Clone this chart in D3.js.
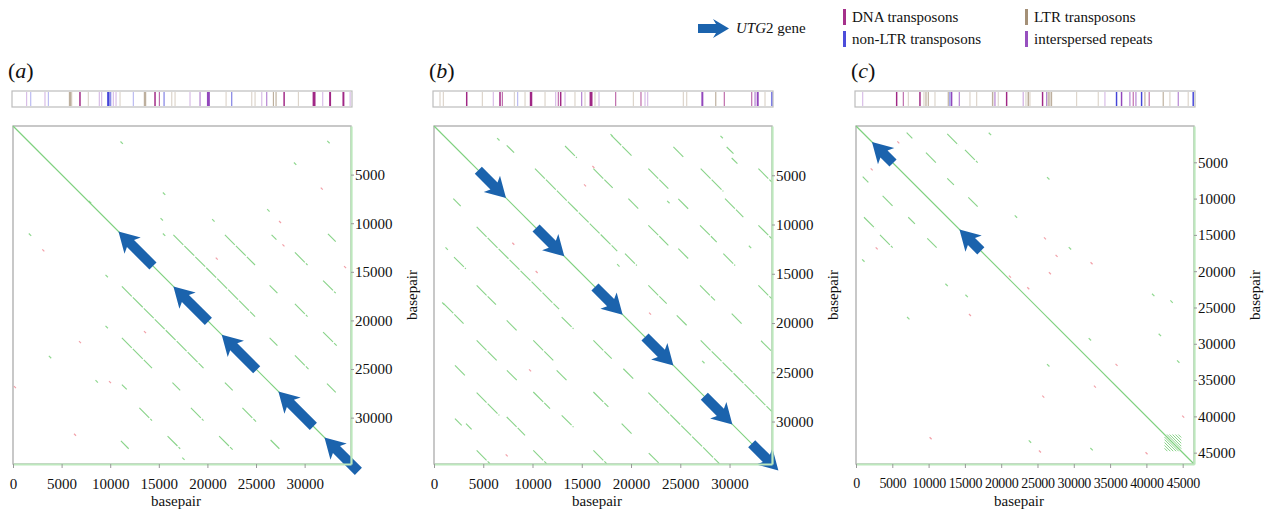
<!DOCTYPE html>
<html>
<head>
<meta charset="utf-8">
<script src="https://cdn.jsdelivr.net/npm/d3@7"></script>
<style>
  body { margin: 0; background: #fff; }
  svg text { font-family: "Liberation Serif", "Times New Roman", Times, serif; fill: #111; }
</style>
</head>
<body>
<svg id="chart" width="1269" height="515"></svg>
<script>
'use strict';

// sequence lengths (bp) of the three loci
var lengthA = 34770, lengthB = 34310, lengthC = 46560;

var xTicksA = [0, 5000, 10000, 15000, 20000, 25000, 30000];
var yTicksA = [5000, 10000, 15000, 20000, 25000, 30000];
var xTicksC = [0, 5000, 10000, 15000, 20000, 25000, 30000, 35000, 40000, 45000];
var yTicksC = [5000, 10000, 15000, 20000, 25000, 30000, 35000, 40000, 45000];

// UTG2 gene copies [start, end] in bp
var genesA = [[10850, 14400], [16500, 20100], [21470, 25070], [27300, 30900], [32040, 35530]];
var genesB = [[4500, 7310], [10360, 13230], [16340, 19150], [21420, 24300], [27440, 30290], [32250, 34960]];
var genesC = [[2200, 5100], [14250, 17200]];
var strandA = "-", strandB = "+", strandC = "-";

// repeat hits in upper triangle [x1, y1, x2, y2] (self dot plot, mirrored below)
var segsA = [[16500, 11200, 24900, 19600], [21800, 11200, 24900, 14300], [26600, 11200, 27100, 11700],
  [29000, 13000, 30300, 14300], [32400, 11100, 33200, 11900], [26400, 16400, 27200, 17200],
  [29000, 18300, 30300, 19600], [31900, 15900, 33200, 17200], [26400, 21800, 27200, 22600],
  [29000, 23600, 30400, 25000], [31900, 21200, 33300, 22600], [32300, 26500, 33200, 27400]];
var segsB = [[10250, 4330, 18600, 12700], [27070, 21760, 34280, 28970], [7380, 1960, 8130, 2710],
  [13300, 2030, 14500, 3230], [18000, 950, 20050, 3000], [24300, 2130, 25400, 3230],
  [29710, 2130, 30400, 2810], [30220, 3250, 30800, 3820], [16180, 4330, 18140, 6290],
  [21760, 4330, 23790, 6360], [27070, 4330, 29370, 6630], [32930, 4330, 34280, 5680],
  [19730, 7380, 20740, 8390], [24800, 7400, 25800, 8400], [29540, 7380, 31400, 9240],
  [21760, 10080, 23790, 12110], [27000, 10080, 28700, 11780], [32930, 10080, 34280, 11430],
  [19390, 12960, 20590, 14160], [24800, 12450, 25800, 13450], [29370, 12960, 30570, 14160],
  [21760, 16180, 23620, 18040], [27000, 16180, 28520, 17700], [32930, 16180, 34280, 17530],
  [24640, 19220, 25660, 20240], [30220, 19050, 31240, 20070], [33200, 21800, 34280, 22880]];
var segsC = [[6980, 920, 7760, 1700], [12570, 1100, 14090, 2620], [15010, 3300, 16760, 5050],
  [9640, 3670, 11020, 5050], [12570, 7200, 13490, 8120], [15470, 9820, 16760, 11110]];

// tandem repeat block in (c)
var tandemC = [42500, 44800];
var tandemOffsetsC = [-1900, -1500, -1100, -700, -350, 350, 700, 1100, 1500, 1900];

// isolated short hits [x, y]
var greenDotsA = [[11180, 1720], [15300, 9600], [15540, 11180], [1750, 11180], [3810, 23770], [8610, 26270],
  [9640, 20680], [9640, 15440], [7920, 7820], [32450, 1650], [29020, 3880], [26270, 8680],
  [20610, 9710], [15540, 6960], [17530, 34230]];
var pinkDotsA = [[3120, 12790], [6890, 22230], [13580, 21200], [200, 26860], [9980, 26340], [6380, 31760],
  [27470, 9880], [20960, 13650], [34160, 14510], [31760, 6450], [27820, 12280]];
var greenDotsB = [[18040, 950], [6530, 1350], [29200, 1120], [1290, 12450], [950, 18040], [18710, 14150],
  [27340, 23960], [32080, 12280], [23790, 7720]];
var pinkDotsB = [[16180, 4160], [15330, 6020], [10420, 14820], [21930, 19050], [7380, 33430], [9750, 24800],
  [8050, 11950]];
var greenDotsC = [[18450, 1100], [26480, 7210], [22030, 12480], [29470, 16850], [1010, 18540], [12480, 21890],
  [15240, 23410], [40940, 23270], [43470, 24190], [7200, 26480], [32220, 29380], [23960, 43470],
  [32450, 44520], [41860, 28780], [44390, 32450], [26480, 32960]];
var pinkDotsC = [[5830, 2250], [2160, 5970], [2850, 16850], [21210, 20750], [23730, 22350], [26030, 15470],
  [27630, 17900], [32450, 18910], [26710, 20290], [10280, 43010], [15700, 26030], [25340, 44840],
  [35890, 32910], [32910, 35900], [40020, 45080], [45070, 40030], [25800, 37270]];

// repeat annotation tracks [position, length, type, score 1-3]
var repeatsA = [[1400,120,"int",1],[1820,120,"nonLTR",1],[3290,120,"int",1],[3640,120,"nonLTR",1],[5870,250,"LTR",2],
  [6040,120,"LTR",1],[6890,150,"DNA",3],[7750,120,"LTR",1],[8880,120,"int",1],[9120,120,"int",1],[9810,250,"nonLTR",3],
  [10050,120,"nonLTR",2],[10320,120,"int",1],[10600,120,"int",1],[11010,120,"LTR",1],[12380,120,"nonLTR",1],
  [13580,250,"LTR",2],[14610,150,"DNA",3],[15060,120,"DNA",2],[15540,120,"nonLTR",2],[16330,120,"LTR",1],
  [16670,120,"LTR",1],[18210,120,"int",1],[19240,120,"int",2],[20100,300,"int",3],[21920,120,"LTR",1],
  [22500,120,"nonLTR",2],[24560,120,"LTR",1],[24900,120,"LTR",1],[25590,120,"int",1],[26100,120,"int",2],
  [26790,120,"LTR",2],[27060,120,"LTR",2],[27890,150,"DNA",3],[29360,120,"LTR",1],[30970,300,"DNA",3],
  [31860,120,"int",1],[32620,200,"DNA",3],[33990,200,"DNA",3],[34680,120,"int",1]];
var repeatsB = [[610,120,"LTR",1],[950,120,"LTR",1],[3320,150,"DNA",3],[4910,120,"LTR",1],[6020,120,"int",1],
  [6700,150,"DNA",3],[6940,120,"DNA",2],[8160,120,"LTR",1],[8490,120,"nonLTR",1],[9240,120,"LTR",1],[9850,250,"DNA",3],
  [11270,120,"LTR",1],[12350,120,"int",1],[12620,120,"DNA",2],[12860,150,"DNA",3],[13300,120,"int",1],
  [14310,120,"LTR",1],[14990,120,"int",2],[15330,120,"LTR",1],[15940,300,"DNA",3],[16340,120,"LTR",1],
  [16750,120,"int",1],[18440,120,"DNA",2],[20240,120,"LTR",1],[21010,120,"DNA",2],[21420,120,"int",1],
  [21690,120,"int",1],[25310,120,"LTR",1],[25650,120,"LTR",1],[27240,200,"int",3],[28600,120,"LTR",2],
  [29470,120,"DNA",2],[32250,120,"DNA",2],[32590,120,"int",2],[32860,200,"int",3],[33600,120,"LTR",1],
  [34280,150,"nonLTR",2]];
var repeatsC = [[920,160,"int",1],[5600,200,"DNA",3],[6520,160,"DNA",2],[7210,160,"LTR",1],[8810,200,"DNA",3],
  [9360,160,"LTR",1],[9640,160,"LTR",2],[9960,160,"LTR",2],[10880,160,"LTR",1],[12710,160,"LTR",2],
  [12940,160,"nonLTR",2],[13170,200,"int",3],[14230,160,"int",2],[15700,160,"LTR",1],[16620,160,"LTR",1],
  [18820,200,"LTR",2],[19140,160,"int",2],[19600,160,"LTR",1],[20750,200,"DNA",3],[23040,200,"int",1],
  [23410,160,"LTR",1],[23730,200,"LTR",2],[23960,160,"LTR",1],[25700,200,"DNA",3],[26260,160,"int",2],
  [26480,160,"LTR",2],[26710,160,"LTR",2],[26940,160,"LTR",2],[30390,160,"LTR",1],[33370,160,"LTR",1],
  [34290,160,"int",1],[35890,200,"nonLTR",3],[36580,200,"int",3],[37730,160,"int",2],[38190,160,"DNA",2],
  [38560,160,"int",2],[39340,200,"nonLTR",3],[39800,160,"LTR",2],[40390,160,"DNA",2],[42320,160,"LTR",2],
  [43240,160,"LTR",1],[44390,160,"int",2],[45760,160,"LTR",1],[46450,200,"nonLTR",3]];

var repeatTypes = ["DNA", "nonLTR", "LTR", "int"];
var repeatLabels = ["DNA transposons", "non-LTR transposons", "LTR transposons", "interspersed repeats"];

// ---- styles ----
var serif = '"Liberation Serif", "Times New Roman", Times, serif';
var repeatColor = d3.scaleOrdinal().domain(repeatTypes)
  .range(["#9b1b7e", "#3a3ad6", "#9a8468", "#8c3db8"]);
var scoreOpacity = d3.scaleOrdinal().domain([1, 2, 3]).range([0.35, 0.65, 0.95]);
var arrowBlue = "#1b63ad";
var hitGreen = "#6cc96c";

var svg = d3.select("#chart");

var panels = [
  {label: "a", left: 13, len: lengthA, xTicks: xTicksA, yTicks: yTicksA, genes: genesA, strand: strandA,
   segs: segsA, green: greenDotsA, pink: pinkDotsA, repeats: repeatsA, xFont: 15},
  {label: "b", left: 434, len: lengthB, xTicks: xTicksA, yTicks: yTicksA, genes: genesB, strand: strandB,
   segs: segsB, green: greenDotsB, pink: pinkDotsB, repeats: repeatsB, xFont: 15},
  {label: "c", left: 856, len: lengthC, xTicks: xTicksC, yTicks: yTicksC, genes: genesC, strand: strandC,
   segs: segsC, green: greenDotsC, pink: pinkDotsC, repeats: repeatsC, tandem: tandemC, tandemOffsets: tandemOffsetsC,
   xFont: 14}
];

var plotTop = 126, size = 338;

function arrowPoints(x0, y0, x1, y1, sw, hw, hl) {
  var dx = x1 - x0, dy = y1 - y0, len = Math.sqrt(dx * dx + dy * dy);
  var ux = dx / len, uy = dy / len, px = -uy, py = ux;
  var h = Math.min(hl, len * 0.6);
  var bx = x1 - ux * h, by = y1 - uy * h;
  return [[x0 + px * sw, y0 + py * sw], [bx + px * sw, by + py * sw], [bx + px * hw - ux * 3, by + py * hw - uy * 3],
    [x1, y1], [bx - px * hw - ux * 3, by - py * hw - uy * 3], [bx - px * sw, by - py * sw], [x0 - px * sw, y0 - py * sw]];
}

panels.forEach(function(p) {
  var x = d3.scaleLinear().domain([0, p.len]).range([p.left, p.left + size]);
  var y = d3.scaleLinear().domain([0, p.len]).range([plotTop, plotTop + size]);
  var g = svg.append("g");

  // panel letter
  var lt = g.append("text").attr("x", p.left - 5).attr("y", 78)
    .style("font-family", serif).style("font-size", "22px");
  lt.append("tspan").text("(");
  lt.append("tspan").style("font-style", "italic").text(p.label);
  lt.append("tspan").text(")");

  // repeat track
  g.append("rect")
    .attr("x", p.left - 1).attr("y", 91).attr("width", size + 2).attr("height", 16)
    .attr("fill", "#fff").attr("stroke", "#bdbdbd").attr("stroke-width", 1.2);
  g.selectAll(".rep").data(p.repeats).enter().append("rect")
    .attr("x", function(d) { return x(d[0] - d[1] / 2); })
    .attr("y", 92).attr("height", 14)
    .attr("width", function(d) { return Math.max(1.1, x(d[1]) - x(0)); })
    .attr("fill", function(d) { return repeatColor(d[2]); })
    .attr("opacity", function(d) { return scoreOpacity(d[3]); });

  // plot box
  g.append("rect").attr("x", p.left).attr("y", plotTop).attr("width", size).attr("height", size)
    .attr("fill", "#fff").attr("stroke", "#ababab").attr("stroke-width", 1.3);

  // repeat hits, both triangles
  var all = [];
  p.segs.forEach(function(s) { all.push(s); all.push([s[1], s[0], s[3], s[2]]); });
  g.selectAll(".seg").data(all).enter().append("line")
    .attr("x1", function(d) { return x(d[0]); }).attr("y1", function(d) { return y(d[1]); })
    .attr("x2", function(d) { return x(d[2]); }).attr("y2", function(d) { return y(d[3]); })
    .attr("stroke", hitGreen).attr("stroke-width", 1.1).attr("opacity", 0.8)
    .attr("stroke-dasharray", "14,1.5");

  if (p.tandem) {
    var t0 = p.tandem[0], t1 = p.tandem[1];
    g.selectAll(".tan").data(p.tandemOffsets).enter().append("line")
      .attr("x1", function(o) { return x(t0 + Math.max(0, o)); })
      .attr("y1", function(o) { return y(t0 + Math.max(0, -o)); })
      .attr("x2", function(o) { return x(t1 - Math.max(0, -o)); })
      .attr("y2", function(o) { return y(t1 - Math.max(0, o)); })
      .attr("stroke", hitGreen).attr("stroke-width", 1).attr("opacity", 0.8);
  }

  g.selectAll(".gd").data(p.green).enter().append("line")
    .attr("x1", function(d) { return x(d[0]) - 1.2; }).attr("y1", function(d) { return y(d[1]) - 1.2; })
    .attr("x2", function(d) { return x(d[0]) + 1.2; }).attr("y2", function(d) { return y(d[1]) + 1.2; })
    .attr("stroke", "#8fd88f").attr("stroke-width", 1.2);
  g.selectAll(".pd").data(p.pink).enter().append("line")
    .attr("x1", function(d) { return x(d[0]) - 1; }).attr("y1", function(d) { return y(d[1]) - 1; })
    .attr("x2", function(d) { return x(d[0]) + 1; }).attr("y2", function(d) { return y(d[1]) + 1; })
    .attr("stroke", "#f2a0a8").attr("stroke-width", 1.2);

  // main diagonal
  g.append("line").attr("x1", x(0)).attr("y1", y(0)).attr("x2", x(p.len)).attr("y2", y(p.len))
    .attr("stroke", "#7fd17f").attr("stroke-width", 1.2);

  // gene arrows
  g.selectAll(".gene").data(p.genes).enter().append("polygon")
    .attr("points", function(d) {
      var a = p.strand === "+" ? d[0] : d[1], b = p.strand === "+" ? d[1] : d[0];
      return arrowPoints(x(a), y(a), x(b), y(b), 5, 11.5, 17).join(" ");
    })
    .attr("fill", arrowBlue);

  // axes
  var fmt = d3.format("d");
  var xa = g.append("g").attr("transform", "translate(0," + (plotTop + size) + ")")
    .call(d3.axisBottom(x).tickValues(p.xTicks).tickFormat(fmt).tickSize(4).tickSizeOuter(0).tickPadding(10));
  var ya = g.append("g").attr("transform", "translate(" + (p.left + size) + ",0)")
    .call(d3.axisRight(y).tickValues(p.yTicks).tickFormat(fmt).tickSize(3).tickSizeOuter(0).tickPadding(1));
  [xa, ya].forEach(function(a) {
    a.attr("font-family", serif).attr("font-size", 15);
    a.select(".domain").attr("stroke", "#bde8bd").attr("stroke-width", 2.2);
    a.selectAll(".tick line").attr("stroke", "#999");
    a.selectAll(".tick text").style("font-family", serif).style("font-size", "15px").attr("fill", "#111");
  });
  xa.selectAll(".tick text").style("font-size", p.xFont + "px").style("letter-spacing", p.xFont < 15 ? "-0.3px" : null);

  g.append("text").attr("x", p.left + size / 2 - 6).attr("y", 506)
    .attr("text-anchor", "middle").style("font-family", serif).style("font-size", "15px").text("basepair");
  g.append("text").attr("transform", "translate(" + (p.left + size + 66) + "," + 295 + ") rotate(-90)")
    .attr("text-anchor", "middle").style("font-family", serif).style("font-size", "15px").text("basepair");
});

// legend
var lg = svg.append("g");
lg.append("polygon").attr("points", arrowPoints(698, 28.5, 729, 28.5, 4.5, 9.5, 13).join(" ")).attr("fill", arrowBlue);
var gt = lg.append("text").attr("x", 736).attr("y", 33).style("font-family", serif).style("font-size", "15px");
gt.append("tspan").style("font-style", "italic").text("UTG");
gt.append("tspan").text("2 gene");

var legendPos = [[843, 9], [843, 31], [1025, 9], [1025, 31]];
repeatTypes.forEach(function(t, i) {
  lg.append("rect").attr("x", legendPos[i][0]).attr("y", legendPos[i][1]).attr("width", 3).attr("height", 16)
    .attr("fill", repeatColor(t)).attr("opacity", 0.9);
  lg.append("text").attr("x", legendPos[i][0] + 9).attr("y", legendPos[i][1] + 13)
    .style("font-family", serif).style("font-size", "15px").text(repeatLabels[i]);
});
</script>
</body>
</html>
